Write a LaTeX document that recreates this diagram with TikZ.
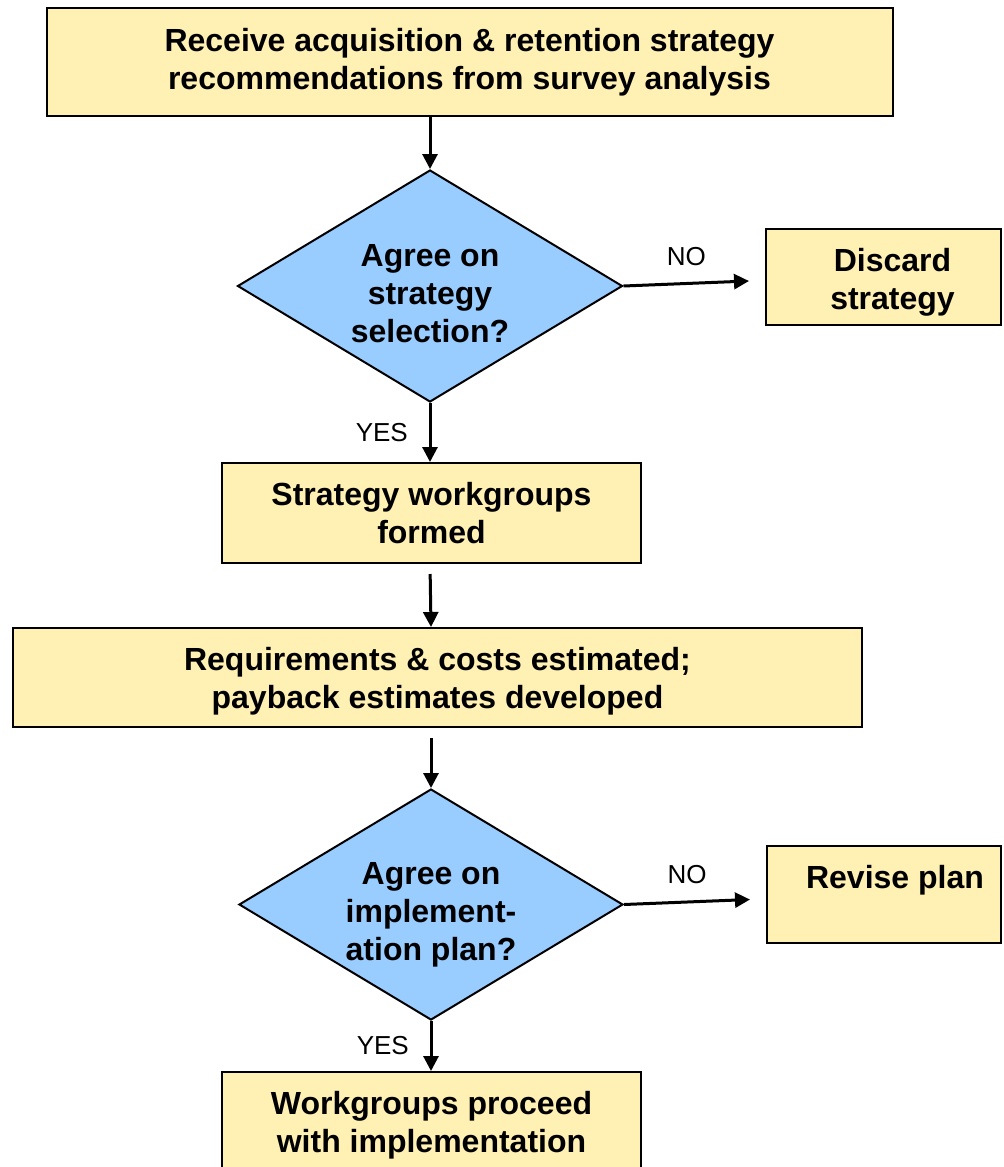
\documentclass[tikz,border=0pt]{standalone}
\usepackage{fontspec}
\setmainfont{Liberation Sans}
\usepackage{xcolor}
\usepackage{tikz}
\usetikzlibrary{shapes.geometric, positioning, arrows.meta}

\definecolor{boxyellow}{RGB}{255,240,180}
\definecolor{diablue}{RGB}{153,204,255}

% lines of text, pushed right by #1 and down by #2, taking no height
\newcommand{\movedtext}[3]{\hspace*{#1}\raisebox{-#2}[0pt][0pt]{\begin{tabular}{@{}c@{}}#3\end{tabular}}}

\begin{document}
\begin{tikzpicture}[
        % one unit = one pixel of the page
        x=0.5pt, y=-0.5pt,
        % process boxes
        block/.style={
            rectangle,
            draw=black,
            line width=1pt,
            fill=boxyellow,
            inner sep=0pt,
            align=center,
            font=\bfseries\fontsize{16}{19}\selectfont
        },
        % decision diamonds
        decision/.style={
            diamond,
            draw=black,
            line width=1pt,
            fill=diablue,
            aspect=1.66,
            inner sep=0pt,
            minimum width=192.5pt,
            minimum height=116pt,
            align=center,
            font=\bfseries\fontsize{16}{19}\selectfont
        },
        % arrows
        arrow/.style={
            -{Triangle[length=7.5pt, width=7.5pt]},
            line width=1.5pt
        },
        % YES / NO labels
        label_text/.style={
            font=\fontsize{13}{15}\selectfont,
            color=black
        }
    ]

    \useasboundingbox (0,0) rectangle (1003,1167);

    % 1. main column
    \node[block, minimum width=423pt, minimum height=54pt] (receive) at (469.5,62)
        {Receive acquisition \& retention strategy\\recommendations from survey analysis};
    \node[decision] (agree_sel) at (430,286)
        {\movedtext{0pt}{9.75pt}{Agree on\\strategy\\selection?}};
    \node[block, minimum width=209.5pt, minimum height=50pt] (workgroups) at (431.5,513)
        {\movedtext{0pt}{6.5pt}{Strategy workgroups\\formed}};
    \node[block, minimum width=424.5pt, minimum height=49.5pt] (estimate) at (437.5,677.5)
        {\movedtext{0pt}{6.75pt}{Requirements \& costs estimated;\\payback estimates developed}};
    \node[decision, minimum width=192pt, minimum height=115.5pt] (agree_plan) at (431,904.5)
        {\movedtext{0pt}{9.5pt}{Agree on\\implement-\\ation plan?}};
    \node[block, minimum width=209.5pt, minimum height=50pt] (proceed) at (431.5,1122)
        {\movedtext{0pt}{6.5pt}{Workgroups proceed\\with implementation}};

    % 2. side boxes
    \node[block, minimum width=117.5pt, minimum height=48pt] (discard) at (883.5,277)
        {\movedtext{9pt}{7.25pt}{Discard\\strategy}};
    \node[block, minimum width=117pt, minimum height=48.5pt] (revise) at (884,894.5)
        {\movedtext{11pt}{-2.5pt}{Revise plan}};

    % 3. connectors
    \draw[arrow] (agree_sel.north |- receive.south) -- (agree_sel.north);
    \draw[arrow] (agree_sel.east) -- node[above=5pt, label_text] {NO}
        ([yshift=-2pt, xshift=-8pt]discard.west);
    \draw[arrow] (agree_sel.south) -- node[left=7pt, label_text] {YES}
        (agree_sel.south |- workgroups.north);
    \draw[arrow, shorten <=5pt] (agree_sel.south |- workgroups.south) -- (agree_plan.north |- estimate.north);
    \draw[arrow, shorten <=5pt] (agree_plan.north |- estimate.south) -- (agree_plan.north);
    \draw[arrow] (agree_plan.east) -- node[above=5pt, label_text] {NO}
        ([yshift=-2.5pt, xshift=-8pt]revise.west);
    \draw[arrow] (agree_plan.south) -- node[left=7pt, label_text] {YES}
        (agree_plan.south |- proceed.north);

\end{tikzpicture}
\end{document}
